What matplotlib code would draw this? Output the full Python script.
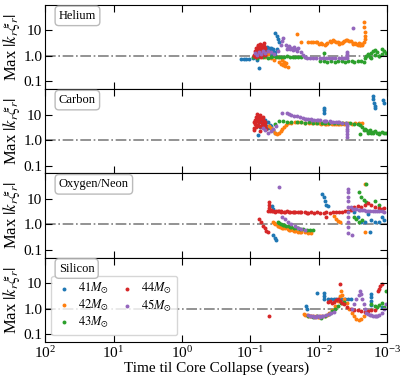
import matplotlib
matplotlib.use('Agg')
import matplotlib.pyplot as plt
from matplotlib.ticker import FixedLocator, FixedFormatter, NullLocator

plt.rcParams['font.family'] = ['Liberation Serif', 'DejaVu Serif']
plt.rcParams['mathtext.fontset'] = 'stix'

masses = [41, 42, 43, 44, 45]
colors = ['#1f77b4', '#ff7f0e', '#2ca02c', '#d62728', '#9467bd']
panel_names = ['Helium', 'Carbon', 'Oxygen/Neon', 'Silicon']

# --- Helium ---
he_t = {
    41: [0.135, 0.125, 0.115, 0.105, 0.09, 0.085, 0.08, 0.075, 0.07, 0.067, 0.064, 0.061, 0.058, 0.056,
         0.053, 0.05, 0.048, 0.047, 0.045, 0.044, 0.043, 0.041, 0.066, 0.06, 0.055, 0.05, 0.046,
         0.043, 0.041, 0.039, 0.038, 0.062, 0.057, 0.052, 0.049, 0.054, 0.059],
    42: [0.065, 0.06, 0.055, 0.05, 0.045, 0.04, 0.038, 0.036, 0.033, 0.031, 0.03, 0.028, 0.021, 0.018,
         0.0145, 0.013, 0.012, 0.011, 0.0098, 0.009, 0.0082, 0.0075, 0.0068, 0.0062, 0.0056, 0.0051,
         0.0046, 0.0042, 0.0038, 0.0034, 0.0031, 0.0028, 0.0026, 0.0024, 0.0022, 0.0022, 0.0021,
         0.0021, 0.0021, 0.0022, 0.0023, 0.0025, 0.0105, 0.0093, 0.0079, 0.0065, 0.0059, 0.0053,
         0.0048, 0.0044, 0.004, 0.0036, 0.0032, 0.0029, 0.0027, 0.0025, 0.0023, 0.034, 0.032],
    43: [0.09, 0.085, 0.08, 0.075, 0.07, 0.065, 0.06, 0.055, 0.05, 0.046, 0.042, 0.038, 0.035, 0.032,
         0.029, 0.026, 0.024, 0.022, 0.02, 0.018, 0.016, 0.0085, 0.0095, 0.0085, 0.0075, 0.0065,
         0.0058, 0.0052, 0.0046, 0.0041, 0.0037, 0.0033, 0.003, 0.0027, 0.0024, 0.0022, 0.0021, 0.002,
         0.0019, 0.0018, 0.0017, 0.0016, 0.0015, 0.0014, 0.0013, 0.0012, 0.0011, 0.00105, 0.0015,
         0.0013, 0.0017, 0.0019, 0.0012],
    44: [0.088, 0.085, 0.082, 0.08, 0.078, 0.076, 0.074, 0.072, 0.07, 0.068, 0.066, 0.064, 0.063,
         0.062, 0.061, 0.06, 0.075, 0.083, 0.07, 0.066, 0.078, 0.072, 0.081, 0.077, 0.073, 0.069,
         0.065, 0.087, 0.067, 0.071],
    45: [0.085, 0.08, 0.075, 0.07, 0.065, 0.06, 0.055, 0.05, 0.045, 0.04, 0.035, 0.034, 0.033, 0.03,
         0.028, 0.026, 0.024, 0.022, 0.02, 0.018, 0.017, 0.016, 0.015, 0.0135, 0.012, 0.0108, 0.0097,
         0.0087, 0.0078, 0.007, 0.0063, 0.0057, 0.0051, 0.0046, 0.0042, 0.0038, 0.0038, 0.0038,
         0.0038, 0.0031, 0.029, 0.027, 0.025, 0.023, 0.021],
}
he_v = {
    41: [0.75, 0.75, 0.75, 0.75, 0.8, 0.9, 0.7, 0.33, 1.5, 1.8, 2.0, 1.6, 1.9, 1.4,
         1.7, 2.1, 1.5, 1.3, 1.2, 1.4, 1.1, 1.9, 1.2, 1.3, 1.6, 1.1, 1.8,
         8.0, 6.3, 4.6, 3.6, 1.9, 2.2, 1.7, 1.5, 2.0, 1.8],
    42: [1.0, 0.9, 1.2, 0.8, 0.7, 0.9, 0.6, 0.5, 0.45, 0.4, 0.55, 0.38, 7.0, 3.6,
         3.5, 3.6, 3.4, 3.5, 2.9, 3.0, 2.8, 3.2, 3.8, 4.2, 3.6, 3.0,
         3.3, 3.9, 4.4, 3.7, 3.0, 2.9, 3.2, 3.0, 21.0, 14.0, 9.0,
         6.0, 4.5, 3.5, 2.7, 2.8, 3.4, 3.1, 3.0, 3.5, 4.0, 3.4,
         3.1, 3.6, 4.1, 4.0, 3.3, 3.1, 2.7, 2.6, 2.9, 0.7, 0.6],
    43: [0.9, 1.0, 0.85, 0.95, 1.05, 0.9, 1.0, 0.85, 0.95, 1.0, 0.9, 0.88, 0.95, 0.92,
         1.0, 0.9, 0.95, 0.88, 0.92, 0.9, 0.95, 1.28, 0.65, 0.62, 0.6, 0.63,
         0.6, 0.62, 0.65, 0.6, 0.62, 0.63, 0.6, 0.62, 0.65, 0.6, 0.8, 1.0,
         1.2, 0.9, 1.3, 1.6, 1.1, 1.4, 1.0, 1.2, 1.5, 1.3, 1.7,
         1.0, 0.85, 1.1, 1.8],
    44: [1.1, 1.5, 2.0, 1.3, 1.8, 2.4, 1.6, 2.2, 1.2, 2.8, 1.9, 3.2, 2.5,
         1.4, 2.0, 1.1, 1.0, 0.95, 0.9, 1.5, 2.8, 3.0, 1.7, 1.3, 2.6, 1.7,
         2.2, 1.0, 1.2, 1.4],
    45: [1.3, 1.1, 1.4, 1.2, 1.5, 1.3, 1.6, 1.4, 1.2, 1.5, 2.8, 3.8, 5.0, 2.6,
         2.2, 1.9, 1.7, 1.9, 2.0, 1.4, 1.1, 0.95, 0.85, 0.84, 0.86, 0.85, 0.84,
         0.85, 0.86, 0.84, 0.85, 0.84, 0.85, 0.86, 0.85, 0.84, 1.0, 1.2,
         1.4, 13.0, 1.8, 2.4, 2.1, 2.3, 1.6],
}

# --- Carbon ---
c_t = {
    41: [0.078, 0.074, 0.07, 0.066, 0.062, 0.058, 0.055, 0.052, 0.049, 0.046, 0.044, 0.076,
         0.0085, 0.0085, 0.0085, 0.0016, 0.00158, 0.00155, 0.0015, 0.00148, 0.00114, 0.00112,
         0.072, 0.064, 0.06, 0.056, 0.05],
    42: [0.054, 0.05, 0.047, 0.044, 0.041, 0.038, 0.036, 0.034, 0.032, 0.03, 0.028, 0.025, 0.022,
         0.02, 0.018, 0.016, 0.014, 0.0125, 0.011, 0.0098, 0.0087, 0.0077, 0.0068, 0.006, 0.0053,
         0.0047, 0.0042, 0.0037, 0.0033, 0.0029, 0.0026, 0.0023, 0.0093, 0.0082, 0.0072, 0.0064,
         0.0056, 0.005, 0.0044],
    43: [0.044, 0.038, 0.033, 0.029, 0.025, 0.021, 0.018, 0.016, 0.014, 0.012, 0.0105, 0.009, 0.008,
         0.007, 0.006, 0.0052, 0.0045, 0.004, 0.0035, 0.003, 0.0027, 0.0025, 0.0023, 0.0021, 0.002,
         0.0019, 0.0018, 0.0017, 0.0016, 0.0015, 0.0014, 0.0013, 0.0012, 0.0011, 0.00105, 0.0025,
         0.0022, 0.0019, 0.0016, 0.0013],
    44: [0.088, 0.085, 0.082, 0.079, 0.076, 0.073, 0.07, 0.068, 0.066, 0.064, 0.062, 0.06,
         0.087, 0.084, 0.081, 0.078, 0.075, 0.072, 0.069, 0.067, 0.065, 0.063, 0.061, 0.059,
         0.086, 0.083, 0.08, 0.077, 0.074, 0.071, 0.068, 0.065, 0.088, 0.079],
    45: [0.065, 0.06, 0.055, 0.05, 0.046, 0.042, 0.034, 0.029, 0.027, 0.025, 0.023, 0.021, 0.019,
         0.017, 0.016, 0.0145, 0.013, 0.0118, 0.0106, 0.0095, 0.0085, 0.0077, 0.0069, 0.0062,
         0.0055, 0.005, 0.0045, 0.004, 0.0038, 0.0038, 0.0038, 0.0038, 0.0038, 0.0038, 0.0152,
         0.0125, 0.0101, 0.0081, 0.0065, 0.0052],
}
c_v = {
    41: [4.0, 6.0, 5.0, 7.0, 4.5, 3.5, 5.0, 4.0, 3.0, 2.5, 2.0, 1.6,
         19.0, 15.0, 12.0, 55.0, 40.0, 30.0, 22.0, 18.0, 36.0, 30.0,
         3.2, 5.5, 6.2, 3.0, 3.6],
    42: [3.5, 3.0, 2.5, 2.0, 1.8, 2.0, 2.3, 2.8, 3.2, 3.8, 4.6, 4.8, 5.0,
         5.2, 5.0, 4.9, 4.8, 4.7, 4.8, 4.6, 4.7, 4.5, 4.6, 4.4, 4.5,
         4.5, 4.4, 4.6, 4.5, 4.7, 4.9, 4.8, 4.5, 4.4, 4.5, 4.3,
         4.4, 4.3, 4.6],
    43: [4.5, 5.5, 5.8, 5.3, 5.0, 5.2, 5.0, 4.9, 5.0, 4.8, 4.9, 4.7, 4.8,
         4.6, 4.7, 4.6, 4.8, 4.7, 4.6, 4.5, 4.4, 4.0, 3.2, 2.8, 2.4,
         2.2, 2.5, 2.0, 1.9, 2.2, 2.0, 1.9, 2.1, 2.0, 2.0, 1.7,
         2.6, 2.0, 2.1, 1.8],
    44: [3.0, 5.0, 8.0, 4.0, 6.0, 10.0, 3.5, 7.0, 4.5, 5.5, 3.0, 4.0,
         2.5, 6.0, 3.8, 9.0, 5.0, 2.2, 6.5, 3.2, 8.0, 4.0, 5.0, 2.8,
         4.2, 3.3, 6.8, 5.6, 3.6, 7.5, 4.8, 6.0, 5.2, 11.0],
    45: [3.0, 2.5, 2.0, 2.2, 2.8, 3.5, 12.0, 12.0, 11.0, 10.0, 9.0, 8.5, 8.0,
         7.5, 7.0, 6.8, 6.5, 6.3, 6.2, 6.0, 5.8, 5.6, 5.5, 5.3,
         5.2, 5.0, 4.9, 4.8, 4.5, 3.5, 2.8, 2.2, 1.7, 1.3, 6.9,
         6.4, 6.1, 5.7, 5.4, 5.1],
}

# --- Oxygen/Neon ---
o_t = {
    41: [0.048, 0.047, 0.046, 0.044, 0.042, 0.0088, 0.0085, 0.008, 0.0077, 0.0074,
         0.003, 0.0027, 0.0024, 0.0021, 0.0019, 0.0017, 0.0015, 0.0013, 0.0012, 0.0011, 0.0018],
    42: [0.047, 0.043, 0.04, 0.037, 0.034, 0.031, 0.028, 0.026, 0.024, 0.022, 0.02, 0.018, 0.016,
         0.0145, 0.013, 0.006, 0.0056, 0.0052, 0.0048, 0.0021, 0.0021, 0.045, 0.039, 0.033,
         0.027, 0.023, 0.019],
    43: [0.04, 0.036, 0.033, 0.03, 0.027, 0.025, 0.023, 0.021, 0.019, 0.017, 0.015, 0.0135, 0.012,
         0.0026, 0.0024, 0.0022, 0.002, 0.003, 0.0028, 0.0026, 0.0023, 0.002, 0.0015, 0.0013,
         0.038, 0.032, 0.026, 0.02],
    44: [0.055, 0.05, 0.046, 0.042, 0.038, 0.035, 0.032, 0.029, 0.026, 0.024, 0.022, 0.02, 0.018,
         0.016, 0.0145, 0.013, 0.0118, 0.0106, 0.0095, 0.0085, 0.0077, 0.0069, 0.0062, 0.0056,
         0.005, 0.0045, 0.0041, 0.0037, 0.0034, 0.054, 0.054, 0.054, 0.075, 0.07, 0.066, 0.062,
         0.058, 0.055, 0.0033, 0.003, 0.0027, 0.0024, 0.0021, 0.0019, 0.0017, 0.0015, 0.0013,
         0.0012, 0.0011, 0.0079, 0.052, 0.048, 0.044, 0.04, 0.036, 0.031, 0.027, 0.023,
         0.019, 0.015],
    45: [0.038, 0.034, 0.031, 0.028, 0.025, 0.022, 0.02, 0.018, 0.016, 0.0037, 0.0037, 0.0037,
         0.0037, 0.0037, 0.0037, 0.0037, 0.0037, 0.0037, 0.0037, 0.0034, 0.0031, 0.0028, 0.0025,
         0.0022, 0.002, 0.0018, 0.0016, 0.0014, 0.0013, 0.0012, 0.0011, 0.0033, 0.0029, 0.0026,
         0.0023, 0.0019, 0.0015],
}
o_v = {
    41: [5.2, 4.2, 0.4, 0.3, 0.25, 16.0, 12.0, 8.0, 6.0, 5.2,
         3.0, 2.0, 1.3, 1.2, 2.5, 1.5, 1.2, 1.3, 2.0, 1.5, 0.52],
    42: [1.2, 1.0, 0.9, 0.8, 0.75, 0.7, 0.65, 0.6, 0.58, 0.55, 0.52, 0.5, 0.5,
         0.48, 0.48, 2.1, 1.7, 1.4, 1.3, 40.0, 0.52, 1.1, 0.85, 0.72,
         0.62, 0.56, 0.51],
    43: [1.2, 1.0, 0.95, 0.9, 0.85, 0.8, 0.75, 0.7, 0.68, 0.65, 0.62, 0.6, 0.6,
         19.0, 12.0, 9.0, 7.6, 2.0, 1.6, 1.3, 1.5, 38.0, 8.0, 6.0,
         1.1, 0.92, 0.82, 0.7],
    44: [3.5, 3.6, 3.4, 3.5, 3.3, 3.4, 3.2, 3.3, 3.1, 3.2, 3.0, 3.1, 3.0,
         3.0, 2.9, 3.0, 2.9, 3.0, 2.9, 2.9, 3.0, 2.9, 3.0, 3.0,
         3.1, 3.2, 3.3, 3.5, 3.6, 7.6, 6.0, 4.5, 1.6, 1.2, 0.9, 0.7,
         0.55, 0.52, 4.5, 5.0, 5.5, 5.0, 6.0, 7.0, 6.0, 5.0, 4.5,
         4.0, 4.5, 1.9, 3.3, 3.4, 3.2, 3.3, 3.1, 3.2, 3.0, 3.1,
         3.0, 2.9],
    45: [28.0, 2.0, 1.6, 1.3, 1.0, 0.85, 0.75, 0.65, 0.6, 25.0, 18.0, 12.0,
         8.0, 5.0, 3.0, 2.0, 1.3, 0.8, 0.48, 4.8, 4.2, 4.0, 3.8,
         3.6, 3.5, 3.4, 3.5, 3.4, 3.3, 3.3, 3.2, 0.4, 3.9, 3.7,
         3.6, 3.4, 3.3],
}

# --- Silicon ---
si_t = {
    41: [0.0155, 0.015, 0.0106, 0.0085, 0.0085, 0.0085, 0.0072, 0.0066, 0.006, 0.0055, 0.005,
         0.0045, 0.0041, 0.0037, 0.0034, 0.0017, 0.0017, 0.0017, 0.0017, 0.0012],
    42: [0.0166, 0.015, 0.0135, 0.012, 0.011, 0.01, 0.009, 0.0082, 0.0075, 0.007, 0.0064, 0.0058,
         0.0053, 0.0049, 0.0047, 0.0045, 0.0042, 0.0039, 0.0036, 0.0033, 0.003, 0.0028, 0.0026,
         0.0024, 0.0022, 0.0158, 0.0142, 0.0128, 0.0115, 0.0104, 0.0095],
    43: [0.0141, 0.012, 0.0105, 0.0092, 0.008, 0.007, 0.0063, 0.0057, 0.0052, 0.0047, 0.0043,
         0.0017, 0.0015, 0.0014, 0.0013, 0.0012, 0.0011, 0.00105],
    44: [0.054, 0.0072, 0.0068, 0.0064, 0.006, 0.0056, 0.0052, 0.0048, 0.0046, 0.0049, 0.0042,
         0.0038, 0.0034, 0.003, 0.0027, 0.0024, 0.0021, 0.0019, 0.0017, 0.0015, 0.00135, 0.0013,
         0.00125, 0.0012],
    45: [0.0141, 0.0128, 0.0116, 0.0105, 0.0095, 0.0086, 0.0078, 0.0071, 0.0065, 0.006, 0.0033,
         0.003, 0.0028, 0.0026, 0.0025, 0.0024, 0.0023, 0.0022, 0.0021, 0.002, 0.0019, 0.0017,
         0.0015, 0.0014, 0.0013, 0.0012, 0.0011, 0.00105, 0.0135, 0.0122, 0.011, 0.01, 0.009,
         0.0018, 0.0016, 0.00145],
}
si_v = {
    41: [1.3, 1.0, 4.0, 4.0, 3.0, 2.3, 2.5, 2.4, 2.5, 2.5, 2.4,
         2.5, 2.5, 2.4, 2.5, 3.6, 2.8, 2.0, 1.4, 1.2],
    42: [0.6, 0.55, 0.52, 0.5, 0.5, 0.48, 0.5, 0.52, 0.55, 0.7, 0.9, 1.3,
         2.0, 3.0, 4.8, 3.5, 2.5, 1.6, 1.0, 0.7, 0.5, 0.4, 0.36,
         0.4, 0.5, 0.57, 0.53, 0.5, 0.49, 0.47, 0.5],
    43: [0.5, 0.48, 0.5, 0.45, 0.5, 0.6, 0.8, 1.0, 1.3, 1.6, 1.8,
         1.5, 1.3, 1.2, 1.4, 1.6, 1.2, 5.0],
    44: [0.52, 1.8, 2.0, 1.7, 1.9, 2.2, 2.5, 2.0, 1.6, 9.0, 1.5,
         1.2, 1.0, 0.9, 0.85, 0.8, 0.75, 0.8, 0.85, 0.9, 4.8, 6.0,
         7.5, 9.0],
    45: [0.55, 0.5, 0.48, 0.5, 0.48, 0.52, 0.55, 0.6, 0.65, 0.76, 1.0,
         1.5, 2.5, 3.5, 4.8, 3.8, 2.5, 1.5, 1.0, 0.7, 0.6, 0.55,
         0.5, 0.52, 0.55, 0.7, 1.0, 1.5, 0.52, 0.5, 0.49, 0.5, 0.5,
         0.56, 0.52, 0.5],
}

panel_t = [he_t, c_t, o_t, si_t]
panel_v = [he_v, c_v, o_v, si_v]

fig, axes = plt.subplots(4, 1, figsize=(4.07, 3.79), dpi=100, sharex=True)
fig.subplots_adjust(left=0.111, right=0.951, top=0.987, bottom=0.098, hspace=0)

for ax, name, tt, vv in zip(axes, panel_names, panel_t, panel_v):
    for m, c in zip(masses, colors):
        ax.scatter(tt[m], vv[m], s=8, color=c, linewidths=0, label=r'$%d M_{\odot}$' % m)
    ax.axhline(1.0, color='gray', linestyle='-.', linewidth=1.2, zorder=0)
    ax.set_xscale('log')
    ax.set_yscale('log')
    ax.set_xlim(1e2, 1e-3)
    ax.set_ylim(0.05, 100)
    ax.yaxis.set_major_locator(FixedLocator([0.1, 1.0, 10]))
    ax.yaxis.set_major_formatter(FixedFormatter(['0.1', '1.0', '10']))
    ax.yaxis.set_minor_locator(NullLocator())
    ax.xaxis.set_minor_locator(NullLocator())
    ax.tick_params(direction='in', top=True, right=True, length=5, labelsize=11, pad=2)
    ax.set_ylabel(r'Max $|k_r \xi_r|$', fontsize=12, labelpad=1)
    ax.text(0.04, 0.87, name, transform=ax.transAxes, fontsize=9, va='center', ha='left',
            zorder=10,
            bbox=dict(boxstyle='round,pad=0.3', facecolor='white', edgecolor='#bbbbbb'))

axes[-1].set_xticks([1e2, 1e1, 1e0, 1e-1, 1e-2, 1e-3])
axes[-1].set_xlabel('Time til Core Collapse (years)', fontsize=11, labelpad=1)
axes[-1].legend(ncol=2, loc='lower left', bbox_to_anchor=(0.018, 0.08), borderaxespad=0,
                fontsize=9, handletextpad=0.5, columnspacing=0.9, borderpad=0.4,
                labelspacing=0.1, markerscale=1.0, handlelength=1.2)

plt.savefig('out.png', dpi=100)
